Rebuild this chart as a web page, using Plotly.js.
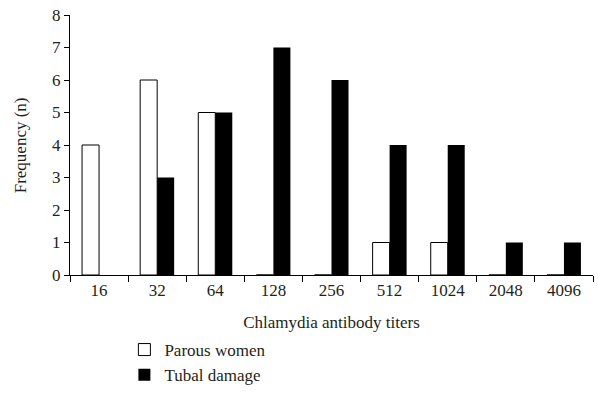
<!DOCTYPE html>
<html>
<head>
<meta charset="utf-8">
<script src="https://cdn.plot.ly/plotly-3.0.1.min.js"></script>
<style>html,body{margin:0;padding:0;background:#fff;}#chart{width:598px;height:415px;}</style>
</head>
<body>
<div id="chart"></div>
<script>
var categories = ["16", "32", "64", "128", "256", "512", "1024", "2048", "4096"];
var parousWomen = [4, 6, 5, 0, 0, 1, 1, 0, 0];
var tubalDamage = [0, 3, 5, 7, 6, 4, 4, 1, 1];
var seriesNames = ["Parous women", "Tubal damage"];
var yTicks = [0, 1, 2, 3, 4, 5, 6, 7, 8];
var xTitle = "Chlamydia antibody titers";
var yTitle = "Frequency (n)";

var fontFamily = "'Liberation Serif', 'DejaVu Serif', serif";
var textColor = "#231f20";

var traces = [
  {
    type: "bar",
    name: seriesNames[0],
    x: categories,
    y: parousWomen,
    marker: {color: "#ffffff", line: {color: "#000000", width: 1}}
  },
  {
    type: "bar",
    name: seriesNames[1],
    x: categories,
    y: tubalDamage,
    marker: {color: "#000000", line: {color: "#000000", width: 0}}
  }
];

var layout = {
  width: 598,
  height: 415,
  margin: {l: 70, r: 5, t: 15, b: 140, autoexpand: false},
  paper_bgcolor: "#ffffff",
  plot_bgcolor: "#ffffff",
  font: {family: fontFamily, size: 17, color: textColor},
  barmode: "group",
  bargap: 0.415,
  bargroupgap: 0,
  showlegend: true,
  legend: {
    xref: "container", yref: "container",
    x: 0.208, y: 0.2, xanchor: "left", yanchor: "top",
    orientation: "v",
    font: {family: fontFamily, size: 17, color: textColor},
    bgcolor: "rgba(0,0,0,0)",
    tracegroupgap: 0
  },
  xaxis: {
    type: "category",
    tickson: "boundaries",
    ticks: "outside",
    ticklen: 6,
    tickcolor: "#000",
    tickwidth: 1,
    tickangle: 0,
    showline: true,
    linecolor: "#000",
    linewidth: 1,
    showgrid: false,
    zeroline: false,
    tickfont: {family: fontFamily, size: 17, color: textColor},
    title: {text: xTitle, font: {family: fontFamily, size: 17, color: textColor}, standoff: 16}
  },
  yaxis: {
    range: [0, 8],
    tickvals: yTicks,
    ticks: "outside",
    ticklen: 5,
    tickcolor: "#000",
    tickwidth: 1,
    showline: true,
    linecolor: "#000",
    linewidth: 1,
    showgrid: false,
    zeroline: false,
    tickfont: {family: fontFamily, size: 17, color: textColor}
  },
  annotations: [
    {
      text: yTitle,
      xref: "paper", yref: "paper",
      x: -0.095, y: 0.5,
      xanchor: "center", yanchor: "middle",
      textangle: -90,
      showarrow: false,
      font: {family: fontFamily, size: 17, color: textColor}
    }
  ]
};

Plotly.newPlot("chart", traces, layout, {displayModeBar: false, staticPlot: true});
</script>
</body>
</html>
